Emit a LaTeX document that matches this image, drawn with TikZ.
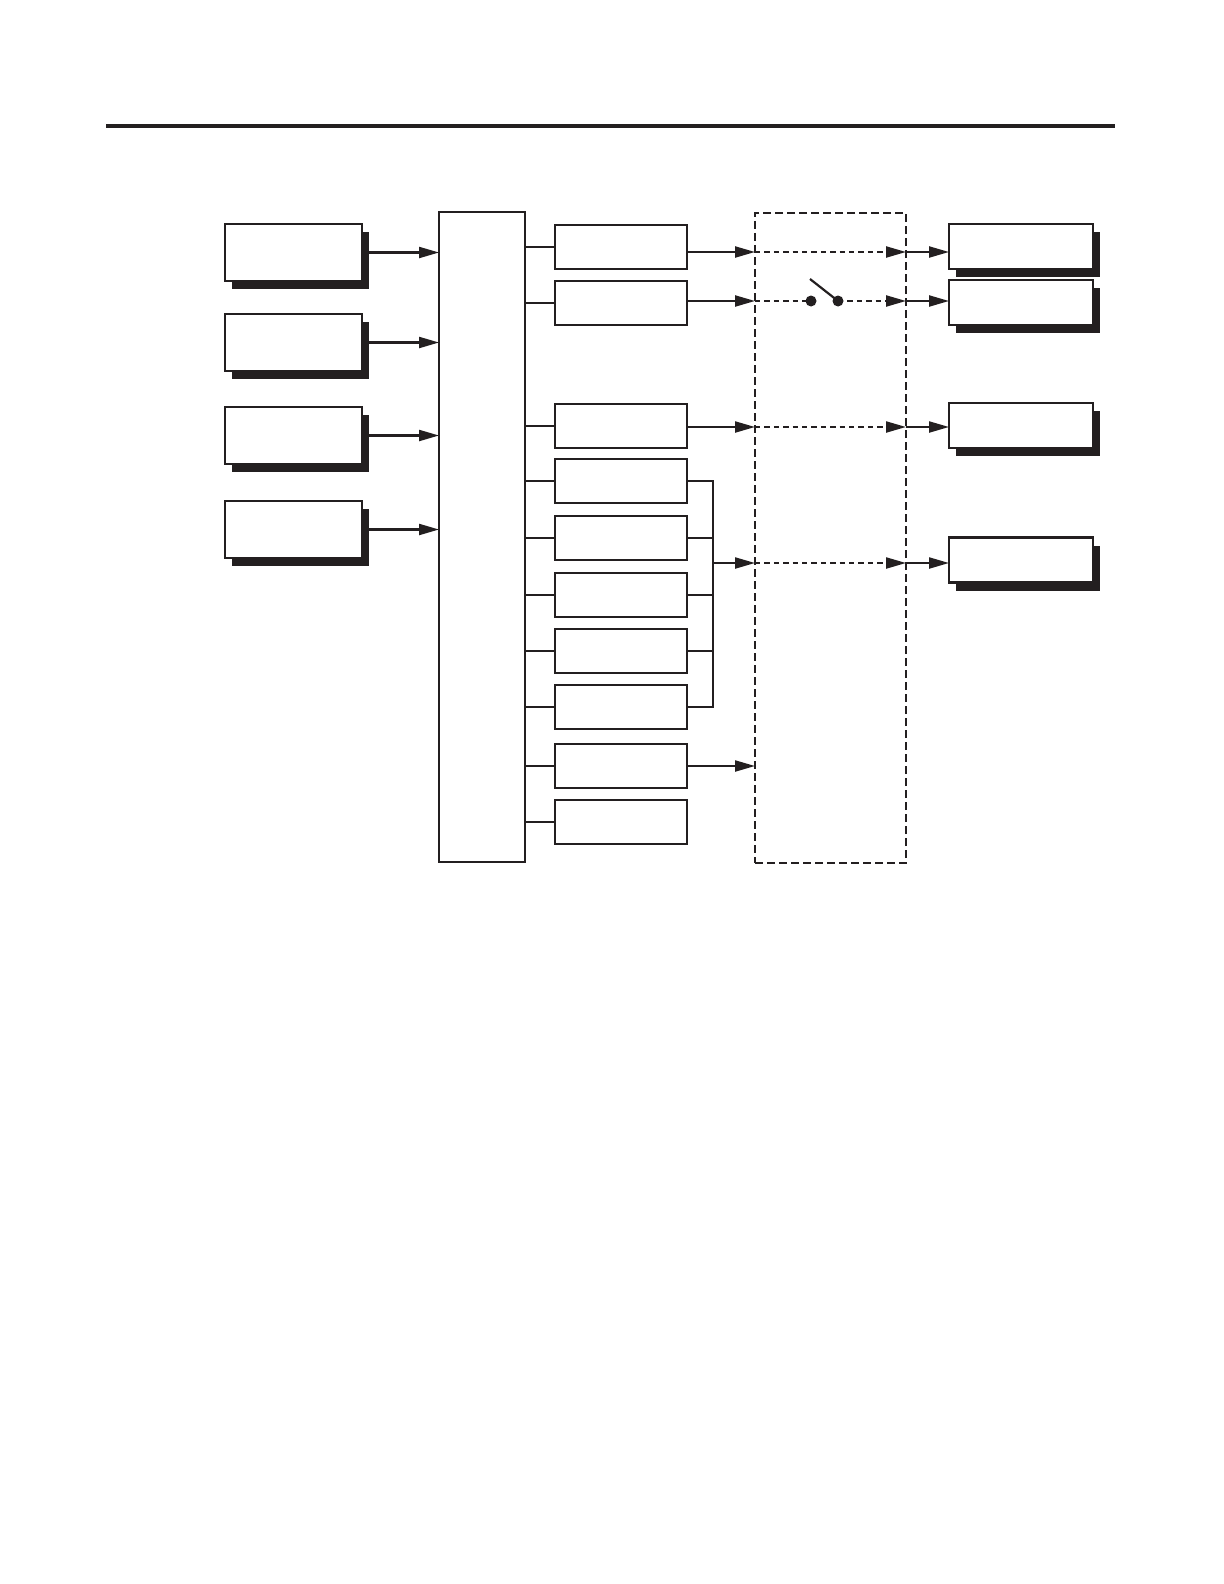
\documentclass[tikz,border=0pt]{standalone}
\usetikzlibrary{arrows.meta,shadows}
\definecolor{ink}{RGB}{35,31,32}

\begin{document}
\begin{tikzpicture}[x=0.5pt, y=-0.5pt, >={Triangle[length=10pt,width=5.5pt]},
    box/.style={draw=ink, line width=1.1pt, fill=white, inner sep=0pt, outer sep=0pt},
    shadowed/.style={box, drop shadow={shadow xshift=3.5pt, shadow yshift=-4pt, fill=ink, opacity=1}},
    source/.style={shadowed, minimum width=68.5pt, minimum height=28.5pt},
    target/.style={shadowed, minimum width=72pt, minimum height=22.5pt},
    cell/.style={box, minimum width=66pt, minimum height=22pt},
    wire/.style={draw=ink, line width=1.1pt},
    signal/.style={draw=ink, line width=1.1pt, dash pattern=on 2.7pt off 2pt}]

    \useasboundingbox (0,0) rectangle (1224,1584);
    \draw[ink, line width=2pt] (106,126) -- (1115,126);

    % inputs and hub
    \node[source] (in1) at (293.5,252.5) {};
    \node[source] (in2) at (293.5,342.5) {};
    \node[source] (in3) at (293.5,435.5) {};
    \node[source] (in4) at (293.5,529.5) {};
    \node[box, minimum width=43pt, minimum height=325pt] (hub) at (482,537) {};
    \foreach \i in {1,...,4}
        \draw[wire,->] (in\i.east) -- (in\i.east -| hub.west);

    % module column
    \foreach \n/\y in {1/247,2/303,3/426,4/481,5/538,6/595,7/651,8/707,9/766,10/822} {
        \node[cell] (m\n) at (621,\y) {};
        \draw[wire] (hub.east |- m\n.west) -- (m\n.west);
    }

    % collector bar
    \coordinate (bus) at (713,563);
    \draw[wire] (m4.east) -| (bus |- m8.east) -- (m8.east);
    \foreach \n in {5,6,7}
        \draw[wire] (m\n.east) -- (m\n.east -| bus);

    % dashed zone
    \node[draw=ink, line width=1.1pt, dash pattern=on 4pt off 2pt, inner sep=0pt,
          minimum width=75.5pt, minimum height=325pt] (zone) at (830.5,538) {};

    % outputs
    \node[target] (r1) at (1021,246.5) {};
    \node[target] (r2) at (1021,302.5) {};
    \node[target] (r3) at (1021,425.5) {};
    \node[target] (r4) at (1021,560) {};

    \coordinate (ia) at (755,252); \coordinate (oa) at (906,252);
    \coordinate (ib) at (755,301); \coordinate (ob) at (906,301);
    \coordinate (ic) at (755,427); \coordinate (oc) at (906,427);
    \coordinate (id) at (755,563); \coordinate (od) at (906,563);
    \coordinate (ie) at (755,766);
    \coordinate (s1) at (811,301); \coordinate (s2) at (838,301);
    \coordinate (lever) at (810,279);

    \draw[wire,->] (m1.east |- ia) -- (ia);
    \draw[signal,->] (ia) -- (oa);
    \draw[wire,->] (oa) -- (oa -| r1.west);

    \draw[wire,->] (m2.east |- ib) -- (ib);
    \draw[signal] (ib) -- (s1);
    \draw[signal,->] (s2) -- (ob);
    \draw[wire,->] (ob) -- (ob -| r2.west);
    \draw[wire] (lever) -- (s2);
    \fill[ink] (s1) circle[radius=2.75pt] (s2) circle[radius=2.75pt];

    \draw[wire,->] (m3.east |- ic) -- (ic);
    \draw[signal,->] (ic) -- (oc);
    \draw[wire,->] (oc) -- (oc -| r3.west);

    \draw[wire,->] (bus) -- (id);
    \draw[signal,->] (id) -- (od);
    \draw[wire,->] (od) -- (od -| r4.west);

    \draw[wire,->] (m9.east |- ie) -- (ie);
\end{tikzpicture}
\end{document}
